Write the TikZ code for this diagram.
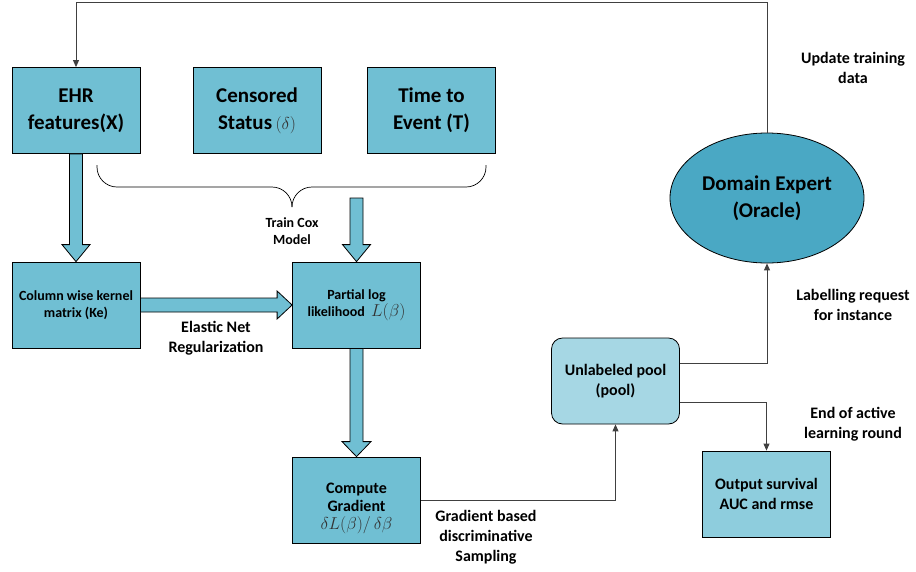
\documentclass[tikz,border=0pt]{standalone}
\usepackage{fontspec}
\setmainfont{Carlito}
\usetikzlibrary{arrows.meta,calc,shapes.geometric}

\definecolor{boxblue}{HTML}{70BFD3}
\definecolor{oracleblue}{HTML}{4AA8C4}
\definecolor{poolblue}{HTML}{A6D7E4}
\definecolor{outblue}{HTML}{8ECDDD}
\definecolor{linegray}{HTML}{404040}
\definecolor{mathgray}{HTML}{333333}

\tikzset{
  box/.style={draw, line width=0.8pt, fill=boxblue, minimum width=128pt, minimum height=86pt, inner sep=2pt, align=center},
  big/.style={font=\bfseries\fontsize{21}{27}\selectfont},
  mid/.style={font=\bfseries\fontsize{16}{20}\selectfont},
  small/.style={font=\bfseries\fontsize{14}{17}\selectfont},
  tiny/.style={font=\bfseries\fontsize{14}{17}\selectfont},
  note/.style={align=center, inner sep=0pt},
  fatarrow/.style={draw, line width=0.8pt, fill=boxblue},
  link/.style={->, draw=linegray, line width=0.9pt}
}

\begin{document}
\begin{tikzpicture}[x=1pt, y=-1pt, >={Triangle[length=7pt,width=6pt]}]
  \useasboundingbox (0,0) rectangle (916,571);

  \node[box, big] at (76,110.5) (ehr) {EHR\\features(X)};
  \node[box, big] at (257,110.5) (cens) {Censored\\Status\,{\fontsize{16}{16}\selectfont\color{mathgray}$(\delta)$}};
  \node[box, big] at (431.5,110.5) (tte) {Time to\\Event (T)};
  \node[box, small] at (76,305) (kern) {Column wise kernel\\matrix (Ke)};
  \node[box, small] at (356.5,305) (plik) {Partial log\\likelihood\ \ {\fontsize{16}{17}\selectfont\color{mathgray}$L(\beta)$}};
  \node[box, font=\bfseries\fontsize{16}{18}\selectfont] at (356.5,500) (grad) {\rule{0pt}{28pt}Compute\\Gradient\\{\color{mathgray}$\delta L(\beta)/\,\delta\beta$}};
  \node[box, mid, fill=poolblue, rounded corners=11pt] at (615.5,381) (pool) {Unlabeled pool\\(pool)};
  \node[box, mid, fill=outblue] at (766.5,494) (result) {Output survival\\AUC and rmse};
  \node[draw, line width=0.8pt, fill=oracleblue, ellipse, minimum width=194pt, minimum height=130pt, inner sep=0pt, align=center, big] at (767,198) (oracle) {Domain Expert\\(Oracle)};

  \coordinate (cox) at (356.5,198);

  % labels
  \node[note, tiny] at (292,231) (coxlabel) {Train Cox\\Model};
  \node[note, mid] at (216,338) (elastic) {Elastic Net\\Regularization};
  \node[note, mid] at (486,537) (sampling) {Gradient based\\discriminative\\Sampling};
  \node[note, mid] at (853,68) (update) {Update training\\data};
  \node[note, mid] at (853,305) (request) {Labelling request\\for instance};
  \node[note, mid] at (853,424) (endround) {End of active\\learning round};

  % brace
  \draw[line width=0.7pt, rounded corners=20pt] (97,165) -- (97,187) -- (292,187) -- (292,207);
  \draw[line width=0.7pt, rounded corners=20pt] (292,207) -- (292,187) -- (486,187) -- (486,165);

  % fat arrows
  \draw[fatarrow] ($(ehr.south)+(-6.5,0)$) -- ($(kern.north)+(-6.5,-17)$) -- ++(-7.5,0) -- (kern.north)
    -- ++(14,-17) -- ++(-7.5,0) -- ($(ehr.south)+(6.5,0)$) -- cycle;
  \draw[fatarrow] ($(cox)+(-6.5,0)$) -- ($(plik.north)+(-6.5,-17)$) -- ++(-7.5,0) -- (plik.north)
    -- ++(14,-17) -- ++(-7.5,0) -- ($(cox)+(6.5,0)$) -- cycle;
  \draw[fatarrow] ($(plik.south)+(-6.5,0)$) -- ($(grad.north)+(-6.5,-15)$) -- ++(-8,0) -- (grad.north)
    -- ++(14.5,-15) -- ++(-8,0) -- ($(plik.south)+(6.5,0)$) -- cycle;
  \draw[fatarrow] ($(kern.east)+(0,-7)$) -- ($(plik.west)+(-15,-7)$) -- ++(0,-7) -- (plik.west)
    -- ++(-15,14) -- ++(0,-7) -- ($(kern.east)+(0,7)$) -- cycle;

  % draw edges
  \draw[link] (grad.east) -| (pool.south);
  \draw[link] ($(pool.east)+(0,-18)$) -| (oracle.south);
  \draw[link] ($(pool.east)+(0,21)$) -| (result.north);
  \draw[link] (oracle.north) -- ++(0,-130) -| (ehr.north);
\end{tikzpicture}
\end{document}
